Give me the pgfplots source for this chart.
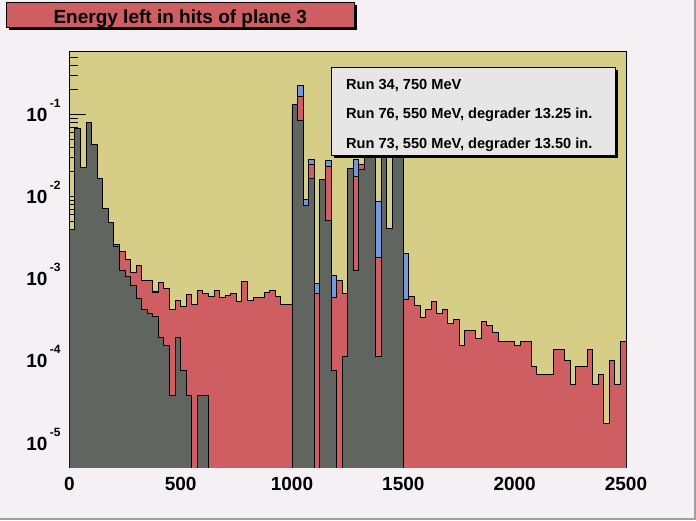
\documentclass[border=0pt]{standalone}
\usepackage{fontspec}
\setmainfont{Liberation Sans}
\usepackage{pgfplots}
\pgfplotsset{compat=1.18}
\usepackage{pgfplotstable}
\definecolor{canvasbg}{RGB}{244,240,244}
\definecolor{frameyellow}{RGB}{214,206,135}
\definecolor{histred}{RGB}{206,94,98}
\definecolor{histblue}{RGB}{116,153,219}
\definecolor{histgrey}{RGB}{96,101,96}
\definecolor{legfill}{RGB}{230,230,230}
\definecolor{bordergrey}{RGB}{160,160,160}
% x = lower bin edge; g = Run 34, r = Run 76, b = Run 73 (normalised counts)
\pgfplotstableread{
x g r b
0 1e-8 1e-8 1e-8
0 3.99e-3 3.17e-3 2.83e-3
25 0.0675 0.0536 0.0478
50 0.0226 0.0179 0.0160
75 0.0798 0.0634 0.0565
100 0.0431 0.0342 0.0305
125 0.0166 0.0132 0.0118
150 7.14e-3 5.67e-3 5.05e-3
175 4.82e-3 3.83e-3 3.41e-3
200 2.45e-3 2.60e-3 2.21e-3
225 1.25e-3 2.15e-3 1.83e-3
250 1.05e-3 1.71e-3 1.45e-3
275 8.22e-4 1.18e-3 1.00e-3
300 5.70e-4 1.44e-3 1.22e-3
325 4.19e-4 9.46e-4 8.04e-4
350 3.74e-4 9.46e-4 8.04e-4
375 3.47e-4 6.75e-4 7.06e-4
400 1.91e-4 8.93e-4 7.59e-4
425 1.52e-4 7.55e-4 6.42e-4
450 3.74e-5 4.19e-4 3.56e-4
475 1.91e-4 5.40e-4 4.59e-4
500 7.62e-5 4.56e-4 3.88e-4
525 3.74e-5 6.38e-4 5.42e-4
550 1e-8 4.82e-4 4.10e-4
575 3.74e-5 7.14e-4 6.07e-4
600 3.74e-5 6.56e-4 5.58e-4
625 1e-8 6.03e-4 5.13e-4
650 1e-8 7.14e-4 6.07e-4
675 1e-8 5.86e-4 4.98e-4
700 1e-8 6.21e-4 5.28e-4
725 1e-8 6.56e-4 5.58e-4
750 1e-8 5.25e-4 4.46e-4
775 1e-8 9.18e-4 7.80e-4
800 1e-8 5.40e-4 4.59e-4
825 1e-8 5.86e-4 4.98e-4
850 1e-8 5.86e-4 4.98e-4
875 1e-8 6.75e-4 5.74e-4
900 1e-8 7.14e-4 6.07e-4
925 1e-8 6.03e-4 5.13e-4
950 1e-8 4.82e-4 4.10e-4
975 1e-8 4.82e-4 4.10e-4
1000 0.134 0.10 0.09
1025 0.0836 0.164 0.226
1050 7.83e-3 6.3e-3 9.18e-3
1075 0.0166 0.0245 0.0282
1100 1e-8 6.56e-4 8.69e-4
1125 0.0161 0.0125 0.0110
1150 5.09e-3 0.0230 0.0277
1175 7.55e-5 5.86e-4 1.09e-3
1200 1e-8 9.46e-4 8.0e-4
1225 1.12e-4 6.56e-4 5.6e-4
1250 0.0219 0.0178 0.0150
1275 1.25e-3 0.0178 0.0282
1300 0.0213 0.0245 0.0200
1325 0.12 0.08 0.07
1350 0.18 0.12 0.10
1375 1.12e-4 1.80e-3 8.83e-3
1400 0.09 0.06 0.05
1425 4.07e-3 3.2e-3 2.7e-3
1450 0.15 0.10 0.08
1475 0.07 0.05 0.04
1500 1e-8 5.55e-4 2.02e-3
1525 1e-8 6.03e-4 5.13e-4
1550 1e-8 4.69e-4 3.99e-4
1575 1e-8 3.34e-4 2.84e-4
1600 1e-8 4.19e-4 3.56e-4
1625 1e-8 5.25e-4 4.46e-4
1650 1e-8 3.74e-4 3.18e-4
1675 1e-8 4.19e-4 3.56e-4
1700 1e-8 2.82e-4 2.40e-4
1725 1e-8 3.16e-4 2.69e-4
1750 1e-8 1.52e-4 1.29e-4
1775 1e-8 2.32e-4 1.97e-4
1800 1e-8 2.32e-4 1.97e-4
1825 1e-8 1.85e-4 1.57e-4
1850 1e-8 2.99e-4 2.54e-4
1875 1e-8 2.67e-4 2.27e-4
1900 1e-8 2.19e-4 1.86e-4
1925 1e-8 1.71e-4 1.45e-4
1950 1e-8 1.71e-4 1.45e-4
1975 1e-8 1.71e-4 1.45e-4
2000 1e-8 1.52e-4 1.29e-4
2025 1e-8 1.71e-4 1.45e-4
2050 1e-8 1.71e-4 1.45e-4
2075 1e-8 8.45e-5 7.18e-5
2100 1e-8 6.75e-5 5.74e-5
2125 1e-8 6.75e-5 5.74e-5
2150 1e-8 6.75e-5 5.74e-5
2175 1e-8 1.36e-4 1.16e-4
2200 1e-8 1.36e-4 1.16e-4
2225 1e-8 1.01e-4 8.59e-5
2250 1e-8 5.09e-5 4.33e-5
2275 1e-8 8.45e-5 7.18e-5
2300 1e-8 8.45e-5 7.18e-5
2325 1e-8 1.36e-4 1.16e-4
2350 1e-8 5.09e-5 4.33e-5
2375 1e-8 6.75e-5 5.74e-5
2400 1e-8 1.71e-5 1.45e-5
2425 1e-8 1.01e-4 8.59e-5
2450 1e-8 5.09e-5 4.33e-5
2475 1e-8 1.71e-4 1.45e-4
2500 1e-8 1.71e-4 1.45e-4
2500 1e-8 1e-8 1e-8
}\histdata
\newcommand{\tl}[1]{10\hspace{2.5pt}\raisebox{14pt}{\fontsize{12}{12}\selectfont\bfseries #1}}
\begin{document}
\begin{tikzpicture}[x=1pt,y=1pt]
\fill[canvasbg] (0,0) rectangle (696,520);
\path[use as bounding box] (0,0) rectangle (696,520);
\fill[bordergrey] (0,0) rectangle (696,2);
\fill[bordergrey] (694,0) rectangle (696,520);
\begin{axis}[
  at={(69.3pt,52.7pt)}, anchor=south west,
  scale only axis, width=556.7pt, height=416pt,
  xmin=0, xmax=2500, ymode=log, ymin=5e-6, ymax=0.59,
  axis background/.style={fill=frameyellow},
  axis line style={black, line width=1pt},
  tick style={black, line width=0.9pt},
  tick align=inside, xtick pos=bottom, ytick pos=left,
  major tick length=17pt, minor tick length=8.5pt,
  xtick={0,500,1000,1500,2000,2500},
  xticklabels={0,500,1000,1500,2000,2500},
  ytick={1e-6,1e-5,1e-4,1e-3,1e-2,1e-1,1},
  yticklabels={{},\tl{-5},\tl{-4},\tl{-3},\tl{-2},\tl{-1},{}},
  tick label style={font=\fontsize{19}{19}\selectfont\bfseries},
  yticklabel style={anchor=base east, inner sep=0pt, xshift=-8.5pt, yshift=-7.4pt},
  xticklabel style={anchor=base, inner sep=0pt, yshift=-23.4pt},
]
\addplot[const plot, fill=histblue, draw=black, line width=0.9pt] table[x=x, y=b]{\histdata};
\addplot[const plot, fill=histred, draw=black, line width=0.9pt] table[x=x, y=r]{\histdata};
\addplot[const plot, fill=histgrey, draw=black, line width=0.9pt] table[x=x, y=g]{\histdata};
\end{axis}
% legend
\fill[black] (334.2,361.7) rectangle (617.5,449.8);
\filldraw[fill=legfill, draw=black, line width=1pt] (331.7,364) rectangle (615,452.3);
\node[anchor=base west, inner sep=0pt] at (346,430.7) {\fontsize{14.6}{14.6}\selectfont\bfseries Run 34, 750 MeV};
\node[anchor=base west, inner sep=0pt] at (346,401) {\fontsize{14.6}{14.6}\selectfont\bfseries Run 76, 550 MeV, degrader 13.25 in.};
\node[anchor=base west, inner sep=0pt] at (346,371.7) {\fontsize{14.6}{14.6}\selectfont\bfseries Run 73, 550 MeV, degrader 13.50 in.};
% title
\fill[black] (9,490) rectangle (356.5,514.5);
\filldraw[fill=histred, draw=black, line width=1pt] (6.5,492.5) rectangle (354,517);
\node[anchor=base, inner sep=0pt] at (180.25,496.7) {\fontsize{19}{19}\selectfont\bfseries Energy left in hits of plane 3};
\end{tikzpicture}
\end{document}
